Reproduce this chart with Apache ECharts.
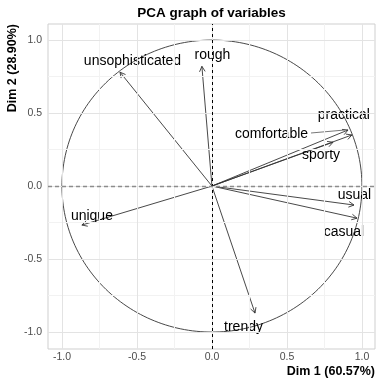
<!DOCTYPE html>
<html><head><meta charset="utf-8">
<script src="https://cdn.jsdelivr.net/npm/echarts@6/dist/echarts.min.js"></script>
<style>html,body{margin:0;padding:0;background:#fff}#c{width:386px;height:383px}</style>
</head><body><div id="c"></div>
<script>
// ---- data ----
const variables = ['unsophisticated','rough','practical','comfortable','sporty','usual','casual','unique','trendy'];
const dim1 = [-0.613, -0.067, 0.933, 0.907, 0.807, 0.947, 0.967, -0.867, 0.287];
const dim2 = [0.78, 0.82, 0.35, 0.384, 0.30, -0.13, -0.22, -0.267, -0.87];
const xTicks = [-1.0, -0.5, 0.0, 0.5, 1.0];
const yTicks = [-1.0, -0.5, 0.0, 0.5, 1.0];
const xMinor = [-0.75, -0.25, 0.25, 0.75];
const yMinor = [-0.75, -0.25, 0.25, 0.75];
const titleText = 'PCA graph of variables';
const xName = 'Dim 1 (60.57%)';
const yName = 'Dim 2 (28.90%)';

// ---- styling (pixel offsets of labels from arrow tips) ----
const labelOffsets = [[12.5,-11],[10.5,-11],[-8,-20],[-76.5,4],[-12,13],[0.5,-10],[-13,14],[10,-9],[-11.5,14]];
const leaderFrom = {3: [-37, 3]};

const FONT = '"Liberation Sans", Arial, sans-serif';
const chart = echarts.init(document.getElementById('c'), null, {renderer:'canvas'});

const gridLines = [];
xMinor.forEach(v => gridLines.push({xAxis: v, lineStyle:{color:'#f2f2f2', width:1, type:'solid'}}));
yMinor.forEach(v => gridLines.push({yAxis: v, lineStyle:{color:'#f2f2f2', width:1, type:'solid'}}));
xTicks.forEach(v => gridLines.push({xAxis: v, lineStyle:{color:'#e3e3e3', width:1, type:'solid'}}));
yTicks.forEach(v => gridLines.push({yAxis: v, lineStyle:{color:'#e3e3e3', width:1, type:'solid'}}));

const fmt = v => v.toFixed(1);

chart.setOption({
  animation: false,
  grid: {left:48, right:11, top:24, bottom:34, show:true, borderColor:'#cfcfcf', borderWidth:1, backgroundColor:'#fff'},
  xAxis: {
    type:'value', min:-1.093, max:1.087,
    axisLine:{show:false}, splitLine:{show:false},
    axisTick:{show:true, length:3, lineStyle:{color:'#cfcfcf'}, customValues: xTicks},
    axisLabel:{color:'#4d4d4d', fontSize:10.5, fontFamily:FONT, margin:3, customValues: xTicks, formatter: fmt}
  },
  yAxis: {
    type:'value', min:-1.116, max:1.11,
    axisLine:{show:false}, splitLine:{show:false},
    axisTick:{show:true, length:3, lineStyle:{color:'#cfcfcf'}, customValues: yTicks},
    axisLabel:{color:'#4d4d4d', fontSize:10.5, fontFamily:FONT, margin:6, customValues: yTicks, formatter: fmt}
  },
  graphic: [
    {type:'text', x:211.5, y:13, style:{text:titleText, font:'bold 13.5px '+FONT, fill:'#000', textAlign:'center', textVerticalAlign:'middle'}},
    {type:'text', x:375, y:372, style:{text:xName, font:'bold 12.5px '+FONT, fill:'#000', textAlign:'right', textVerticalAlign:'middle'}},
    {type:'text', x:13, y:24, rotation:Math.PI/2, style:{text:yName, font:'bold 12.5px '+FONT, fill:'#000', textAlign:'right', textVerticalAlign:'middle'}}
  ],
  series: [
    {
      type:'line', data:[], z:1, silent:true,
      markLine:{silent:true, symbol:['none','none'], label:{show:false}, data: gridLines, animation:false}
    },
    {
      type:'line', data:[], z:2, silent:true,
      markLine:{silent:true, symbol:['none','none'], label:{show:false}, animation:false, data:[
        {xAxis:0, lineStyle:{color:'#000', width:1, type:[3,3]}},
        {yAxis:0, lineStyle:{color:'#8c8c8c', width:1.3, type:[4,3]}}
      ]}
    },
    {
      type:'custom', z:3, silent:true, data:[[0,0]],
      renderItem: function(params, api){
        const pts = [];
        for (let k=0;k<=240;k++){ const t = k/240*2*Math.PI; pts.push(api.coord([Math.cos(t), Math.sin(t)])); }
        return {type:'polyline', shape:{points:pts}, style:{stroke:'#333', lineWidth:0.9, fill:null}};
      }
    },
    {
      type:'custom', z:4, silent:true,
      data: variables.map((n,i)=>[dim1[i], dim2[i], i]),
      renderItem: function(params, api){
        const i = api.value(2);
        const o = api.coord([0,0]);
        const p = api.coord([api.value(0), api.value(1)]);
        const ang = Math.atan2(p[1]-o[1], p[0]-o[0]);
        const L = 6, sp = 28*Math.PI/180;
        const h1 = [p[0]-L*Math.cos(ang-sp), p[1]-L*Math.sin(ang-sp)];
        const h2 = [p[0]-L*Math.cos(ang+sp), p[1]-L*Math.sin(ang+sp)];
        const off = labelOffsets[i];
        const children = [
          {type:'line', shape:{x1:o[0], y1:o[1], x2:p[0], y2:p[1]}, style:{stroke:'#333', lineWidth:0.9}},
          {type:'polyline', shape:{points:[h1,p,h2]}, style:{stroke:'#333', lineWidth:0.9, fill:null}},
          {type:'text', x:p[0]+off[0], y:p[1]+off[1], style:{text:variables[i], font:'14px '+FONT, fill:'#000', textAlign:'center', textVerticalAlign:'middle'}}
        ];
        if (leaderFrom[i]) {
          const f = leaderFrom[i];
          children.push({type:'line', shape:{x1:p[0]+f[0], y1:p[1]+f[1], x2:p[0]-3, y2:p[1]}, style:{stroke:'#555', lineWidth:0.8}});
        }
        return {type:'group', children};
      }
    }
  ]
});
</script>
</body></html>
